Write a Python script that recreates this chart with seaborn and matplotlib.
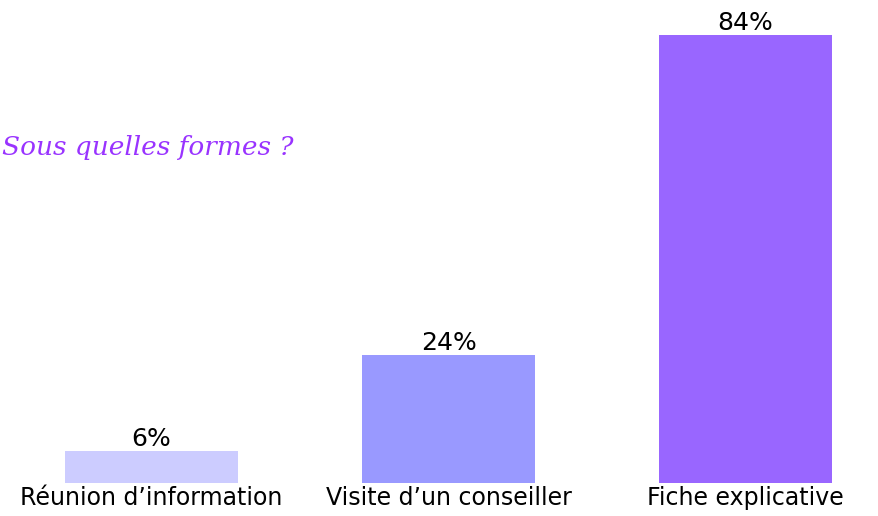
import matplotlib
matplotlib.use("Agg")
import matplotlib.pyplot as plt
import seaborn as sns
import pandas as pd

# données
categories = ["Réunion d’information", "Visite d’un conseiller", "Fiche explicative"]
values = [6, 24, 84]
colors = ["#ccccff", "#9999ff", "#9966ff"]
title = "Sous quelles formes ?"

df = pd.DataFrame({"forme": categories, "pct": values})

sns.set_style("white")
plt.rcParams['font.family'] = ['DejaVu Sans']

fig = plt.figure(figsize=(8.79, 5.16), dpi=100)
ax = fig.add_axes([0, 0.064, 1, 0.936])

sns.barplot(data=df, x="forme", y="pct", hue="forme", palette=colors,
            width=0.58, legend=False, ax=ax, saturation=1, linewidth=0)

for c in ax.containers:
    ax.bar_label(c, labels=[f"{v:.0f}%" for v in c.datavalues], padding=0,
                 fontsize=18, color="black")

ax.set_xlim(-0.51, 2.449)
ax.set_ylim(0, 90.56)
ax.set_xlabel("")
ax.set_ylabel("")
ax.set_yticks([])
ax.tick_params(axis="x", length=0, pad=2, labelsize=17, labelcolor="black")
sns.despine(ax=ax, left=True, bottom=True)

# titre en violet, à gauche
fig.text(2 / 879, 1 - 155 / 516, title, ha="left", va="baseline",
         fontsize=19, color="#9933ff", style="italic", family="DejaVu Serif")

fig.savefig("out.png", dpi=100)
